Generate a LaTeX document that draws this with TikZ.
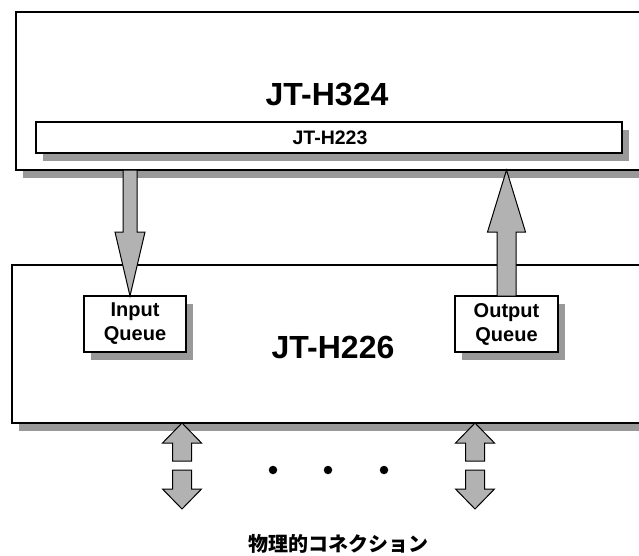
\documentclass[tikz,border=0pt]{standalone}
\usepackage{fontspec}
\setmainfont{Liberation Sans}
\newfontfamily\cjk{Noto Sans CJK JP}
\usetikzlibrary{shadows,calc}
\definecolor{shadowgray}{RGB}{153,153,153}
\definecolor{arrowgray}{RGB}{178,178,178}
\tikzset{
  box/.style={draw=black, line width=1.3pt, fill=white, inner sep=0pt, outer sep=0pt, anchor=north west,
    drop shadow={shadow xshift=7pt, shadow yshift=-8pt, fill=shadowgray, opacity=1}},
  fat/.style={draw=black, line width=1pt, fill=arrowgray, line join=miter},
  dotnode/.style={circle, fill=black, inner sep=0pt, minimum size=8.5pt}
}
% #1 tail, #2 tip, #3 half shaft, #4 half head, #5 head length
\newcommand\fatarr[5]{%
  \draw[fat] let \p1=(#1), \p2=(#2), \n1={sign(\y2-\y1)} in
    (\x1-#3,\y1) -- (\x1-#3,\y2-\n1*#5) -- (\x1-#4,\y2-\n1*#5) -- (\x2,\y2)
    -- (\x1+#4,\y2-\n1*#5) -- (\x1+#3,\y2-\n1*#5) -- (\x1+#3,\y1) -- cycle;}
\begin{document}
\begin{tikzpicture}[x=1pt,y=-1pt]
\useasboundingbox (0,0) rectangle (639,555);
\clip (0,0) rectangle (639,555);
% top box
\node[box, minimum width=640pt, minimum height=158pt] (h324) at (16,12) {};
\node[font=\bfseries\fontsize{32}{38}\selectfont] (t324) at (327,95) {JT-H324};
\node[box, minimum width=586pt, minimum height=31pt] (h223) at (36,122) {};
\node[font=\bfseries\fontsize{19.5}{22}\selectfont] (t223) at ([xshift=1pt]h223.center) {JT-H223};
% bottom box
\node[box, minimum width=640pt, minimum height=158pt] (h226) at (12,265) {};
\node[font=\bfseries\fontsize{32}{38}\selectfont] (t226) at (333,347) {JT-H226};
\node[box, minimum width=102pt, minimum height=56pt] (inq) at (84,296) {};
\node[font=\bfseries\fontsize{20}{24}\selectfont, align=center] (tin) at (inq.center) {Input\\Queue};
\node[box, minimum width=103pt, minimum height=56pt] (outq) at (455,296) {};
\node[font=\bfseries\fontsize{20}{24}\selectfont, align=center] (tout) at (outq.center) {Output\\Queue};
% arrows between layers
\coordinate (inTip) at ([xshift=-5pt]inq.north);
\coordinate (inTail) at (inTip |- h324.south);
\fatarr{inTail}{inTip}{7pt}{15pt}{64pt}
\coordinate (outTip) at (outq.north |- h324.south);
\fatarr{outq.north}{outTip}{9.5pt}{19pt}{62pt}
% physical connections
\coordinate (pl) at (182,470);
\coordinate (pr) at (475,470);
\coordinate (plU) at (182,461);
\coordinate (prU) at (475,461);
\coordinate (plD) at (182,509);
\coordinate (prD) at (475,509);
\fatarr{plU}{plU |- h226.south}{9.5pt}{19.5pt}{20pt}
\fatarr{prU}{prU |- h226.south}{9.5pt}{19.5pt}{20pt}
\fatarr{pl}{plD}{9.5pt}{19.5pt}{20pt}
\fatarr{pr}{prD}{9.5pt}{19.5pt}{20pt}
\node[dotnode] (d1) at (273,470) {};
\node[dotnode] (d2) at (328,470) {};
\node[dotnode] (d3) at (384,470) {};
\node[inner sep=0pt, font=\cjk\bfseries\fontsize{20}{24}\selectfont] (phys) at (338,544) {物理的コネクション};
\end{tikzpicture}
\end{document}
